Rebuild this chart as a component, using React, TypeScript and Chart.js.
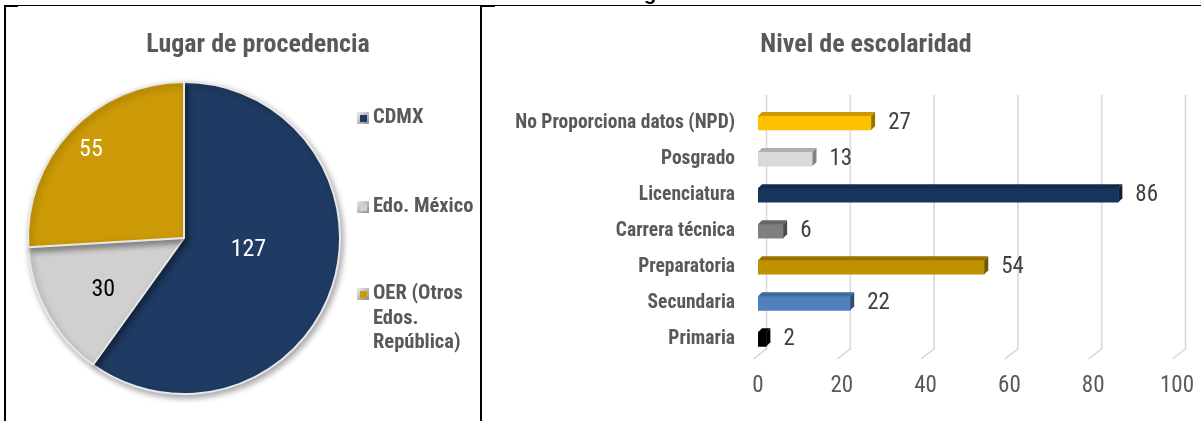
import React, { useEffect, useRef } from 'react';
import { Chart, registerables } from 'chart.js';

Chart.register(...registerables);

const FONT = "'Roboto Condensed', 'Open Sans Condensed', 'Liberation Sans', Arial, sans-serif";

// ---------- Data: Lugar de procedencia ----------
const pieTitle = 'Lugar de procedencia';
const pieLabels = ['CDMX', 'Edo. México', 'OER (Otros Edos. República)'];
const pieLegendLines = [['CDMX'], ['Edo. México'], ['OER (Otros', 'Edos.', 'República)']];
const pieValues = [127, 30, 55];
const pieColors = ['#1F3B63', '#D0D0D0', '#CC9A06'];
const pieValueColors = ['#FFFFFF', '#000000', '#FFFFFF'];

// ---------- Data: Nivel de escolaridad ----------
const barTitle = 'Nivel de escolaridad';
const barCategories = [
  'No Proporciona datos (NPD)',
  'Posgrado',
  'Licenciatura',
  'Carrera técnica',
  'Preparatoria',
  'Secundaria',
  'Primaria',
];
const barValues = [27, 13, 86, 6, 54, 22, 2];
const barColors = ['#FFC000', '#D9D9D9', '#17365D', '#7F7F7F', '#BF9000', '#4F81BD', '#000000'];
const xTickValues = [0, 20, 40, 60, 80, 100];

function shade(hex: string, f: number): string {
  const n = parseInt(hex.slice(1), 16);
  const r = Math.round(((n >> 16) & 255) * f);
  const g = Math.round(((n >> 8) & 255) * f);
  const b = Math.round((n & 255) * f);
  return `rgb(${r},${g},${b})`;
}

const panelTitlePlugin = {
  id: 'panelTitle',
  afterDraw(chart: any, _a: any, opts: any) {
    if (!opts || !opts.text) return;
    const ctx = chart.ctx;
    ctx.save();
    ctx.font = `bold ${opts.size}px ${FONT}`;
    ctx.fillStyle = opts.color;
    ctx.textAlign = 'center';
    ctx.textBaseline = 'middle';
    ctx.fillText(opts.text, opts.x, opts.y);
    ctx.restore();
  },
};

const pieShadowPlugin = {
  id: 'pieShadow',
  beforeDatasetsDraw(chart: any) {
    const ctx = chart.ctx;
    ctx.save();
    ctx.shadowColor = 'rgba(0,0,0,0.35)';
    ctx.shadowBlur = 6;
    ctx.shadowOffsetX = 2;
    ctx.shadowOffsetY = 3;
  },
  afterDatasetsDraw(chart: any) {
    chart.ctx.restore();
  },
};

const pieValuePlugin = {
  id: 'pieValues',
  afterDatasetsDraw(chart: any, _a: any, opts: any) {
    const ctx = chart.ctx;
    const meta = chart.getDatasetMeta(0);
    const data = chart.data.datasets[0].data;
    meta.data.forEach((arc: any, i: number) => {
      const p = arc.getProps(['x', 'y', 'startAngle', 'endAngle', 'outerRadius'], true);
      const mid = (p.startAngle + p.endAngle) / 2 + (opts.angleShift[i] * Math.PI) / 180;
      const r = p.outerRadius * opts.radiusFactor[i];
      ctx.save();
      ctx.font = `${opts.size}px ${FONT}`;
      ctx.fillStyle = opts.colors[i];
      ctx.textAlign = 'center';
      ctx.textBaseline = 'middle';
      ctx.fillText(String(data[i]), p.x + Math.cos(mid) * r, p.y + Math.sin(mid) * r);
      ctx.restore();
    });
  },
};

const pieLegendPlugin = {
  id: 'pieLegend',
  afterDraw(chart: any, _a: any, opts: any) {
    const ctx = chart.ctx;
    const colors = chart.data.datasets[0].backgroundColor;
    opts.lines.forEach((lines: string[], i: number) => {
      const y0 = opts.y[i];
      const mx = opts.markerX;
      const s = opts.markerSize;
      ctx.save();
      const g = ctx.createLinearGradient(mx, y0 - s / 2, mx + s, y0 + s / 2);
      g.addColorStop(0, '#EDEDED');
      g.addColorStop(1, '#8C8C8C');
      ctx.fillStyle = g;
      ctx.fillRect(mx, y0 - s / 2, s, s);
      ctx.fillStyle = colors[i];
      ctx.fillRect(mx + 3, y0 - s / 2 + 3, s - 5, s - 5);
      ctx.font = `bold ${opts.size}px ${FONT}`;
      ctx.fillStyle = opts.color;
      ctx.textAlign = 'left';
      ctx.textBaseline = 'middle';
      lines.forEach((t, j) => ctx.fillText(t, opts.textX, y0 + j * opts.lineHeight));
      ctx.restore();
    });
  },
};

const floorGridPlugin = {
  id: 'floorGrid',
  beforeDatasetsDraw(chart: any, _a: any, opts: any) {
    const { ctx, chartArea } = chart;
    const xs = chart.scales.x;
    ctx.save();
    ctx.strokeStyle = opts.color;
    ctx.lineWidth = opts.width;
    xs.ticks.forEach((t: any) => {
      const x = xs.getPixelForValue(t.value);
      ctx.beginPath();
      ctx.moveTo(x + opts.depth, chartArea.top - opts.rise);
      ctx.lineTo(x + opts.depth, chartArea.bottom + opts.wallEnd);
      ctx.lineTo(x - opts.overshoot, chartArea.bottom + opts.floorDrop);
      ctx.stroke();
    });
    ctx.restore();
  },
};

const bar3dPlugin = {
  id: 'bar3d',
  afterDatasetsDraw(chart: any, _a: any, opts: any) {
    const ctx = chart.ctx;
    const meta = chart.getDatasetMeta(0);
    const cols = chart.data.datasets[0].backgroundColor;
    const d = opts.depth;
    meta.data.forEach((el: any, i: number) => {
      const p = el.getProps(['x', 'y', 'base', 'height'], true);
      const top = p.y - p.height / 2;
      const bottom = p.y + p.height / 2;
      ctx.save();
      ctx.fillStyle = shade(cols[i], 0.8);
      ctx.beginPath();
      ctx.moveTo(p.base, top);
      ctx.lineTo(p.base + d, top - d);
      ctx.lineTo(p.x + d, top - d);
      ctx.lineTo(p.x, top);
      ctx.closePath();
      ctx.fill();
      ctx.fillStyle = shade(cols[i], 0.6);
      ctx.beginPath();
      ctx.moveTo(p.x, top);
      ctx.lineTo(p.x + d, top - d);
      ctx.lineTo(p.x + d, bottom - d);
      ctx.lineTo(p.x, bottom);
      ctx.closePath();
      ctx.fill();
      ctx.restore();
    });
  },
};

const barValuePlugin = {
  id: 'barValues',
  afterDatasetsDraw(chart: any, _a: any, opts: any) {
    const ctx = chart.ctx;
    const meta = chart.getDatasetMeta(0);
    const data = chart.data.datasets[0].data;
    meta.data.forEach((el: any, i: number) => {
      const p = el.getProps(['x', 'y'], true);
      ctx.save();
      ctx.font = `${opts.size}px ${FONT}`;
      ctx.fillStyle = opts.color;
      ctx.textAlign = 'left';
      ctx.textBaseline = 'middle';
      ctx.fillText(String(data[i]), p.x + opts.gap, p.y + opts.dy);
      ctx.restore();
    });
  },
};

function PieChart() {
  const ref = useRef<HTMLCanvasElement | null>(null);
  useEffect(() => {
    if (!ref.current) return;
    const chart = new Chart(ref.current, {
      type: 'pie',
      data: {
        labels: pieLabels,
        datasets: [
          {
            data: pieValues,
            backgroundColor: pieColors,
            borderColor: '#E8E8E8',
            borderWidth: 2,
            hoverOffset: 0,
          },
        ],
      },
      options: {
        responsive: false,
        animation: false,
        events: [],
        layout: { padding: { left: 0, right: 120, top: 74, bottom: 26 } },
        plugins: {
          legend: { display: false },
          tooltip: { enabled: false },
          panelTitle: { text: pieTitle, x: 251, y: 38, size: 26, color: '#595959' },
          pieValues: {
            radiusFactor: [0.42, 0.615, 0.82],
            angleShift: [-7.3, -3.9, 0],
            colors: pieValueColors,
            size: 24,
          },
          pieLegend: {
            lines: pieLegendLines,
            y: [111, 200, 287],
            lineHeight: 24.5,
            markerX: 350,
            markerSize: 12,
            textX: 366,
            size: 20.5,
            color: '#595959',
          },
        } as any,
      },
      plugins: [pieShadowPlugin, pieValuePlugin, pieLegendPlugin, panelTitlePlugin],
    });
    return () => chart.destroy();
  }, []);
  return <canvas ref={ref} width={474} height={414} style={{ position: 'absolute', left: 7, top: 7, width: 474, height: 414 }} />;
}

function BarChart() {
  const ref = useRef<HTMLCanvasElement | null>(null);
  useEffect(() => {
    if (!ref.current) return;
    const chart = new Chart(ref.current, {
      type: 'bar',
      data: {
        labels: barCategories,
        datasets: [
          {
            data: barValues,
            backgroundColor: barColors,
            borderWidth: 0,
            barThickness: 14,
          },
        ],
      },
      options: {
        indexAxis: 'y',
        responsive: false,
        animation: false,
        events: [],
        layout: { autoPadding: false, padding: { left: 0, right: 24, top: 98, bottom: 6 } },
        scales: {
          x: {
            min: 0,
            max: 100,
            afterBuildTicks: (s: any) => {
              s.ticks = xTickValues.map((v) => ({ value: v }));
            },
            afterFit: (s: any) => {
              s.paddingLeft = 0;
              s.paddingRight = 0;
            },
            ticks: { padding: 15, color: '#595959', font: { family: FONT, size: 23 } },
            grid: { display: false, drawTicks: false },
            border: { display: false },
          },
          y: {
            ticks: { padding: 23, color: '#595959', font: { family: FONT, size: 19.5, weight: 'bold' } },
            grid: { display: false, drawTicks: false },
            border: { display: false },
            afterFit: (s: any) => {
              s.width = 276;
            },
          },
        },
        plugins: {
          legend: { display: false },
          tooltip: { enabled: false },
          panelTitle: { text: barTitle, x: 384, y: 38, size: 26, color: '#595959' },
          floorGrid: { color: '#D9D9D9', width: 1.6, depth: 8.5, rise: 10, wallEnd: -8.5, floorDrop: 1.5, overshoot: 4.5 },
          bar3d: { depth: 4 },
          barValues: { size: 23, color: '#404040', gap: 17, dy: 0 },
        } as any,
      },
      plugins: [floorGridPlugin, bar3dPlugin, barValuePlugin, panelTitlePlugin],
    });
    return () => chart.destroy();
  }, []);
  return <canvas ref={ref} width={719} height={414} style={{ position: 'absolute', left: 482, top: 7, width: 719, height: 414 }} />;
}

export default function App() {
  const line = (l: number, t: number, w: number, h: number) => (
    <div style={{ position: 'absolute', left: l, top: t, width: w, height: h, background: '#000' }} />
  );
  return (
    <div style={{ position: 'absolute', left: 0, top: 0, width: 1201, height: 421, overflow: 'hidden', background: '#fff' }}>
      <div
        style={{
          position: 'absolute',
          left: 644,
          top: -17,
          fontFamily: "'Liberation Sans', Arial, sans-serif",
          fontWeight: 'bold',
          fontSize: 20,
          lineHeight: '20px',
          color: '#000',
        }}
      >
        g
      </div>
      <PieChart />
      <BarChart />
      {line(4, 5, 1197, 1)}
      {line(4, 5, 14, 2)}
      {line(480, 5, 15, 2)}
      {line(4, 5, 2, 416)}
      {line(480, 5, 2, 416)}
    </div>
  );
}
